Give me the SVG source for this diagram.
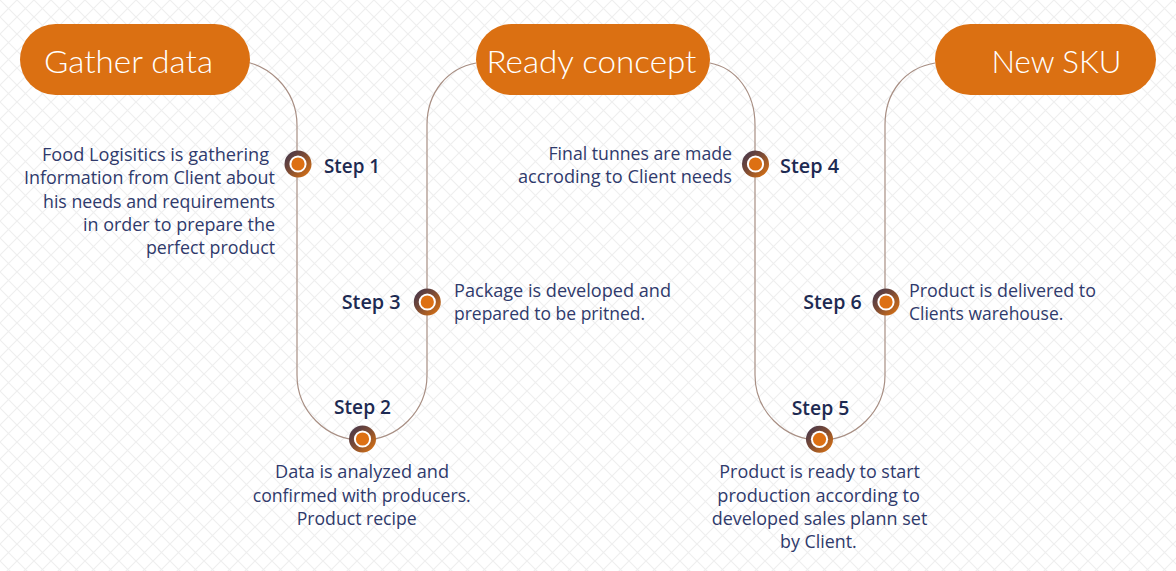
<svg xmlns="http://www.w3.org/2000/svg" width="1176" height="571" viewBox="0 0 1176 571">
<defs>
<pattern id="grid" width="17" height="17" patternUnits="userSpaceOnUse">
<path d="M0,0 L17,17 M17,0 L0,17" stroke="#efefef" stroke-width="1.2" fill="none"/>
</pattern>
<linearGradient id="ring" x1="0" y1="0" x2="1" y2="1">
<stop offset="0" stop-color="#3b3350"/>
<stop offset="0.45" stop-color="#7a4a35"/>
<stop offset="1" stop-color="#e8780e"/>
</linearGradient>
<g id="dot">
<circle r="13.5" fill="url(#ring)"/>
<circle r="8.6" fill="#ffffff"/>
<circle r="6.6" fill="#dd7013"/>
</g>
</defs>
<style>
.pill{fill:#db7012}
.ptxt{font-family:"Lato","Open Sans",sans-serif;font-weight:300;font-size:32px;fill:#ffffff}
.step{font-family:"Open Sans","Noto Sans",sans-serif;font-weight:600;font-size:20px;fill:#1d2a52}
.desc{font-family:"Open Sans","Noto Sans",sans-serif;font-size:18px;fill:#2f3a6c}
.conn{fill:none;stroke:#a88f84;stroke-width:1.2}
</style>
<rect width="1176" height="571" fill="#ffffff"/>
<rect width="1176" height="571" fill="url(#grid)"/>

<g id="connectors">
<path class="conn" d="M232,60.5 A65,65 0 0 1 297,125.5 L297,375 A65,65 0 0 0 427,375 L427,125 C427,92 448,68 476,63"/>
<path class="conn" d="M710,63 C736,68 755,92 755,125 L755,375 A65,65 0 0 0 885,375 L885,125 C885,92 905,68 935,63"/>
</g>

<g id="gather-data">
<rect class="pill" x="20" y="24" width="230" height="71" rx="35.5"/>
<text class="ptxt" x="44" y="73" textLength="169" lengthAdjust="spacingAndGlyphs">Gather data</text>
</g>
<g id="ready-concept">
<rect class="pill" x="476" y="24" width="234" height="71" rx="35.5"/>
<text class="ptxt" x="486.5" y="73" textLength="210" lengthAdjust="spacingAndGlyphs">Ready concept</text>
</g>
<g id="new-sku">
<rect class="pill" x="935" y="24" width="221" height="71" rx="35.5"/>
<text class="ptxt" x="991.5" y="72.5" textLength="130" lengthAdjust="spacingAndGlyphs">New SKU</text>
</g>

<g id="step1">
<use href="#dot" x="298" y="164"/>
<text class="step" x="324" y="173" textLength="56" lengthAdjust="spacingAndGlyphs">Step 1</text>
<text class="desc">
<tspan x="42" y="161" textLength="227" lengthAdjust="spacingAndGlyphs">Food Logisitics is gathering</tspan>
<tspan x="24" y="184.3" textLength="251" lengthAdjust="spacingAndGlyphs">Information from Client about</tspan>
<tspan x="43" y="207.6" textLength="232" lengthAdjust="spacingAndGlyphs">his needs and requirements</tspan>
<tspan x="83" y="230.9" textLength="192" lengthAdjust="spacingAndGlyphs">in order to prepare the</tspan>
<tspan x="146" y="254.2" textLength="129" lengthAdjust="spacingAndGlyphs">perfect product</tspan>
</text>
</g>

<g id="step2">
<use href="#dot" x="362.5" y="439"/>
<text class="step" x="334" y="414" textLength="57" lengthAdjust="spacingAndGlyphs">Step 2</text>
<text class="desc">
<tspan x="275" y="478.3" textLength="174" lengthAdjust="spacingAndGlyphs">Data is analyzed and</tspan>
<tspan x="252.7" y="501.6" textLength="218" lengthAdjust="spacingAndGlyphs">confirmed with producers.</tspan>
<tspan x="296.7" y="524.9" textLength="120" lengthAdjust="spacingAndGlyphs">Product recipe</tspan>
</text>
</g>

<g id="step3">
<use href="#dot" x="427.3" y="302"/>
<text class="step" x="341.7" y="309" textLength="59" lengthAdjust="spacingAndGlyphs">Step 3</text>
<text class="desc">
<tspan x="454" y="297" textLength="217" lengthAdjust="spacingAndGlyphs">Package is developed and</tspan>
<tspan x="454" y="320.3" textLength="191" lengthAdjust="spacingAndGlyphs">prepared to be pritned.</tspan>
</text>
</g>

<g id="step4">
<use href="#dot" x="755.5" y="164"/>
<text class="step" x="780" y="173" textLength="59" lengthAdjust="spacingAndGlyphs">Step 4</text>
<text class="desc">
<tspan x="548.5" y="160" textLength="183.5" lengthAdjust="spacingAndGlyphs">Final tunnes are made</tspan>
<tspan x="518" y="183.3" textLength="214" lengthAdjust="spacingAndGlyphs">accroding to Client needs</tspan>
</text>
</g>

<g id="step5">
<use href="#dot" x="819.5" y="439.3"/>
<text class="step" x="791.7" y="415" textLength="57.6" lengthAdjust="spacingAndGlyphs">Step 5</text>
<text class="desc">
<tspan x="719.3" y="478.3" textLength="200.7" lengthAdjust="spacingAndGlyphs">Product is ready to start</tspan>
<tspan x="717.3" y="501.6" textLength="202.7" lengthAdjust="spacingAndGlyphs">production according to</tspan>
<tspan x="711.7" y="524.9" textLength="215.6" lengthAdjust="spacingAndGlyphs">developed sales plann set</tspan>
<tspan x="780" y="548.2" textLength="76.7" lengthAdjust="spacingAndGlyphs">by Client.</tspan>
</text>
</g>

<g id="step6">
<use href="#dot" x="886" y="302"/>
<text class="step" x="803.3" y="309" textLength="58.4" lengthAdjust="spacingAndGlyphs">Step 6</text>
<text class="desc">
<tspan x="909" y="297" textLength="187" lengthAdjust="spacingAndGlyphs">Product is delivered to</tspan>
<tspan x="909" y="320.3" textLength="154.3" lengthAdjust="spacingAndGlyphs">Clients warehouse.</tspan>
</text>
</g>
</svg>
